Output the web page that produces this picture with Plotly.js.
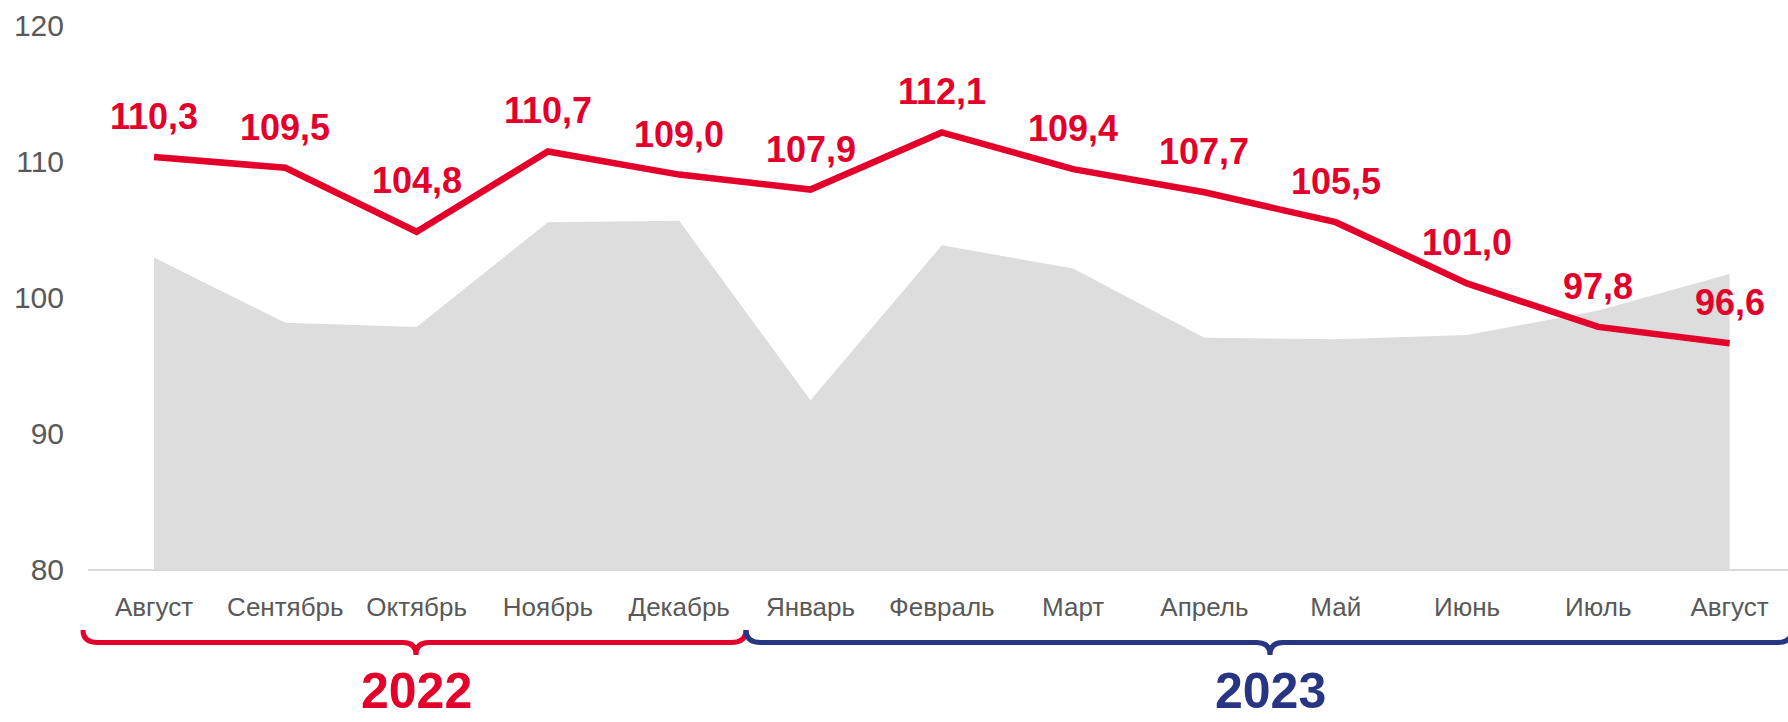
<!DOCTYPE html>
<html>
<head>
<meta charset="utf-8">
<script src="https://cdn.plot.ly/plotly-3.0.1.min.js"></script>
<style>html,body{margin:0;padding:0;background:#fff;}#chart{width:1788px;height:722px;}</style>
</head>
<body>
<div id="chart"></div>
<script>
// ---- data ----
const months = ["Август","Сентябрь","Октябрь","Ноябрь","Декабрь","Январь","Февраль","Март","Апрель","Май","Июнь","Июль","Август"];
const indexValues = [110.3,109.5,104.8,110.7,109.0,107.9,112.1,109.4,107.7,105.5,101.0,97.8,96.6];
const backgroundValues = [102.9,98.1,97.8,105.5,105.6,92.4,103.8,102.1,97.0,96.9,97.2,99.0,101.7];
const yTicks = [80,90,100,110,120];
const years = ["2022","2023"];

const RED = "#E3002B";
const BLUE = "#283583";
const xIdx = months.map((m,i)=>i);

// layout geometry (pixels)
const W = 1788, H = 722;
const L = 88, R = 0, T = 25, B = 153;
const PW = W - L - R, PH = H - T - B;
const px2paperX = p => (p - L) / PW;
const px2paperY = p => (H - B - p) / PH;

function bracePath(x0, xc, x1){
  const top = 630, mid = 642.5, tip = 655, r = 15, rc = 13;
  const P = (x,y)=> px2paperX(x).toFixed(5)+","+px2paperY(y).toFixed(5);
  return "M"+P(x0,top)+" Q"+P(x0,mid)+" "+P(x0+r,mid)+
         " L"+P(xc-rc,mid)+" Q"+P(xc,mid)+" "+P(xc,tip)+
         " Q"+P(xc,mid)+" "+P(xc+rc,mid)+
         " L"+P(x1-r,mid)+" Q"+P(x1,mid)+" "+P(x1,top);
}

const traces = [
  {
    x: xIdx, y: backgroundValues, type: "scatter", mode: "lines",
    fill: "tozeroy", fillcolor: "#DDDDDD", line: {width: 0, color: "#DDDDDD"},
    hoverinfo: "skip", showlegend: false
  },
  {
    x: xIdx, y: indexValues, type: "scatter", mode: "lines",
    line: {color: RED, width: 6.5, shape: "linear"},
    showlegend: false
  }
];

const annotations = indexValues.map((v,i)=>({
  x: i, y: v, xref: "x", yref: "y",
  text: "<b>"+v.toFixed(1).replace(".", ",")+"</b>",
  showarrow: false, xanchor: "center", yanchor: "bottom",
  yshift: (i === 2 ? 29 : 18),
  font: {family: "Liberation Sans, Arial, sans-serif", size: 36, color: RED}
}));

annotations.push({
  x: 2, y: px2paperY(691), xref: "x", yref: "paper",
  text: "<b>"+years[0]+"</b>", showarrow: false, xanchor: "center", yanchor: "middle",
  font: {family: "Liberation Sans, Arial, sans-serif", size: 50, color: RED}
});
annotations.push({
  x: 8.5, y: px2paperY(691), xref: "x", yref: "paper",
  text: "<b>"+years[1]+"</b>", showarrow: false, xanchor: "center", yanchor: "middle",
  font: {family: "Liberation Sans, Arial, sans-serif", size: 50, color: BLUE}
});

const shapes = [
  {type: "path", xref: "paper", yref: "paper", path: bracePath(83, 416, 746), line: {color: RED, width: 5}},
  {type: "path", xref: "paper", yref: "paper", path: bracePath(746, 1270, 1792), line: {color: BLUE, width: 5}}
];

const layout = {
  width: W, height: H,
  margin: {l: L, r: R, t: T, b: B, pad: 0},
  paper_bgcolor: "#ffffff", plot_bgcolor: "#ffffff",
  font: {family: "Liberation Sans, Arial, sans-serif", color: "#595959"},
  xaxis: {
    range: [-0.503, 12.445], tickmode: "array", tickvals: xIdx, ticktext: months,
    showgrid: false, zeroline: false, showline: true, linecolor: "#D9D9D9", linewidth: 1.5,
    ticks: "", ticklabelstandoff: 14,
    tickfont: {size: 26, color: "#595959", family: "Liberation Sans, Arial, sans-serif"}
  },
  yaxis: {
    range: [80, 120], tickmode: "array", tickvals: yTicks,
    showgrid: false, zeroline: false, showline: false, ticks: "", ticklabelstandoff: 23,
    tickfont: {size: 30, color: "#595959", family: "Liberation Sans, Arial, sans-serif"}
  },
  annotations: annotations,
  shapes: shapes,
  showlegend: false,
  hovermode: false
};

Plotly.newPlot("chart", traces, layout, {displayModeBar: false, staticPlot: true});
</script>
</body>
</html>
